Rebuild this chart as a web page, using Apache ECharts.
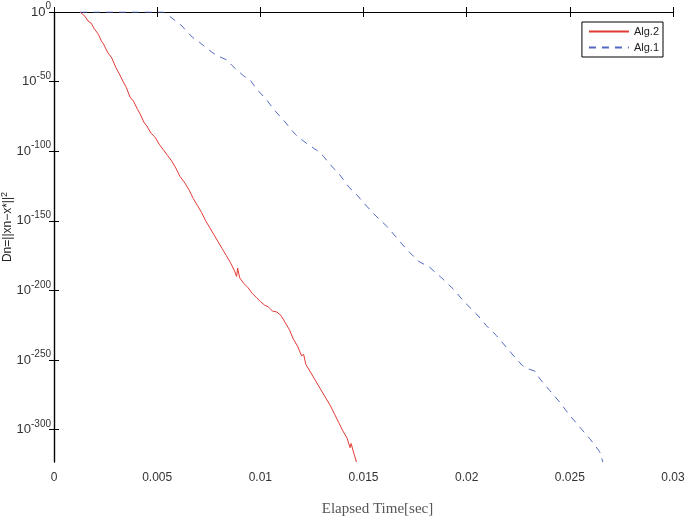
<!DOCTYPE html>
<html>
<head>
<meta charset="utf-8">
<script src="https://cdn.jsdelivr.net/npm/echarts@6/dist/echarts.min.js"></script>
<style>
  html, body { margin: 0; padding: 0; background: #fff; }
  #chart { width: 685px; height: 520px; }
</style>
</head>
<body>
<div id="chart"></div>
<script>
  // y values are log10(Dn)
  var alg2 = [
    [0.00126, 0], [0.00150, -3], [0.00165, -6.5], [0.00180, -8], [0.00195, -12],
    [0.00215, -16], [0.00230, -21], [0.00240, -23], [0.00260, -29], [0.00280, -33],
    [0.00300, -40], [0.00315, -44], [0.00335, -50], [0.00350, -54], [0.00368, -61],
    [0.00385, -64], [0.00405, -70], [0.00420, -74], [0.00435, -79], [0.00450, -82],
    [0.00470, -87], [0.00490, -90], [0.00510, -95], [0.00530, -99], [0.00550, -103],
    [0.00570, -107], [0.00590, -112], [0.00610, -118], [0.00615, -117], [0.00635, -123],
    [0.00655, -128], [0.00675, -134], [0.00695, -139], [0.00715, -144], [0.00735, -150],
    [0.00755, -155], [0.00775, -160], [0.00795, -165], [0.00815, -170], [0.00835, -175],
    [0.00855, -180], [0.00875, -186], [0.00885, -190], [0.00890, -184], [0.00900, -191],
    [0.00920, -195], [0.00940, -198], [0.00960, -202], [0.00980, -205], [0.01000, -208],
    [0.01020, -210.5], [0.01040, -212], [0.01060, -215], [0.01080, -215.5], [0.01100, -218],
    [0.01120, -223], [0.01140, -228], [0.01160, -235], [0.01180, -240], [0.01200, -247],
    [0.01210, -246], [0.01220, -253], [0.01240, -258], [0.01260, -263], [0.01280, -268],
    [0.01300, -273], [0.01320, -278], [0.01340, -283], [0.01360, -289], [0.01380, -295],
    [0.01400, -301], [0.01420, -306], [0.01435, -313], [0.01440, -310], [0.01455, -318],
    [0.01466, -323.3]
  ];
  var alg1 = [
    [0.00126, 0], [0.0053, 0], [0.0056, -3], [0.00594, -7], [0.0062, -10],
    [0.00643, -14], [0.0067, -18], [0.00707, -22], [0.0074, -26], [0.0077, -29.4],
    [0.0080, -32], [0.00837, -34.4], [0.0086, -38], [0.00885, -41.5], [0.0092, -46],
    [0.0095, -48.7], [0.0098, -55], [0.0103, -63], [0.0106, -69], [0.01095, -75],
    [0.0112, -79], [0.01143, -83.3], [0.0117, -88], [0.012, -91.7], [0.0123, -95],
    [0.01256, -97.6], [0.0128, -100], [0.01305, -103.6], [0.0133, -108], [0.01353, -112],
    [0.0138, -116], [0.01402, -120.3], [0.0143, -126], [0.0146, -130], [0.0150, -137],
    [0.0156, -146.6], [0.01612, -153.8], [0.0166, -162], [0.01709, -170.5], [0.01765, -178.9],
    [0.01822, -183.6], [0.01886, -192], [0.01935, -199], [0.01991, -208.7], [0.02048, -217],
    [0.02096, -225.4], [0.02145, -232.6], [0.02193, -241], [0.02241, -249.3], [0.0227, -254],
    [0.02298, -256.4], [0.0233, -258], [0.02355, -263.6], [0.02403, -272], [0.02451, -280.3],
    [0.025, -289.9], [0.02548, -298.2], [0.02597, -306.6], [0.02645, -316], [0.0266, -323.3]
  ];
  var yTicks = [0, -50, -100, -150, -200, -250, -300];
  var xTicks = [0, 0.005, 0.01, 0.015, 0.02, 0.025, 0.03];

  var yMin = -323.3;
  var font = 'Liberation Sans, Arial, sans-serif';

  var myChart = echarts.init(document.getElementById('chart'));

  var tickStyle = { show: true, inside: true, length: 5, lineStyle: { color: '#000', width: 1 } };
  var lineStyle = { show: true, lineStyle: { color: '#000', width: 1.2 } };

  var option = {
    animation: false,
    backgroundColor: '#fff',
    grid: { left: 54, top: 12, right: 12, bottom: 58, containLabel: false, outerBoundsMode: 'none' },
    legend: {
      orient: 'vertical',
      right: 22,
      top: 22,
      itemWidth: 40,
      itemHeight: 10,
      itemGap: 5,
      padding: [4, 4, 4, 6],
      borderColor: '#000',
      borderWidth: 1,
      borderRadius: 0,
      backgroundColor: '#fff',
      itemStyle: { color: 'rgba(0,0,0,0)', borderWidth: 0 },
      textStyle: { fontFamily: font, fontSize: 11, color: '#222' },
      data: ['Alg.2', 'Alg.1']
    },
    xAxis: [
      {
        type: 'value', min: 0, max: 0.03, interval: 0.005,
        name: 'Elapsed Time[sec]', nameLocation: 'middle', nameGap: 40, nameMoveOverlap: false,
        nameTextStyle: { fontFamily: 'Liberation Serif, serif', fontSize: 15, color: '#555', padding: [0, 0, 0, 28] },
        axisLine: lineStyle, axisTick: tickStyle, splitLine: { show: false },
        axisLabel: {
          fontFamily: font, fontSize: 12, color: '#333', margin: 10,
          formatter: function (v) { return String(+v.toFixed(3)); }
        }
      },
      {
        type: 'value', min: 0, max: 0.03, interval: 0.005, position: 'top',
        axisLine: lineStyle, axisTick: tickStyle, splitLine: { show: false },
        axisLabel: { show: false }
      }
    ],
    yAxis: [
      {
        type: 'value', min: yMin, max: 0,
        name: '{a|Dn=||xn\u2212x*||}{s|2}', nameLocation: 'middle', nameGap: 38, nameMoveOverlap: false,
        nameTextStyle: {
          padding: [0, 0, 0, 20],
          rich: {
            a: { fontFamily: font, fontSize: 12, color: '#222' },
            s: { fontFamily: font, fontSize: 9, color: '#222', padding: [0, 0, 7, 0] }
          }
        },
        axisLine: lineStyle,
        axisTick: Object.assign({}, tickStyle, { customValues: yTicks }),
        splitLine: { show: false },
        axisLabel: {
          customValues: yTicks, margin: 3,
          formatter: function (v) {
            var e = Math.round(v);
            return '{b|10}{s|' + (e === 0 ? '0' : e) + '}';
          },
          rich: {
            b: { fontFamily: font, fontSize: 13, color: '#333' },
            s: { fontFamily: font, fontSize: 10, color: '#333', padding: [0, 0, 11, 0] }
          }
        }
      },
      {
        type: 'value', min: yMin, max: 0, position: 'right',
        axisLine: lineStyle,
        axisTick: Object.assign({}, tickStyle, { customValues: yTicks }),
        splitLine: { show: false },
        axisLabel: { show: false }
      }
    ],
    series: [
      {
        name: 'Alg.2', type: 'line', data: alg2,
        showSymbol: false, symbol: 'none',
        lineStyle: { color: '#e23a35', width: 1 },
        itemStyle: { color: '#e23a35' }
      },
      {
        name: 'Alg.1', type: 'line', data: alg1,
        showSymbol: false, symbol: 'none',
        lineStyle: { color: '#5468c2', width: 1, type: [7, 6] },
        itemStyle: { color: '#5468c2' }
      }
    ]
  };
  myChart.setOption(option);
</script>
</body>
</html>
